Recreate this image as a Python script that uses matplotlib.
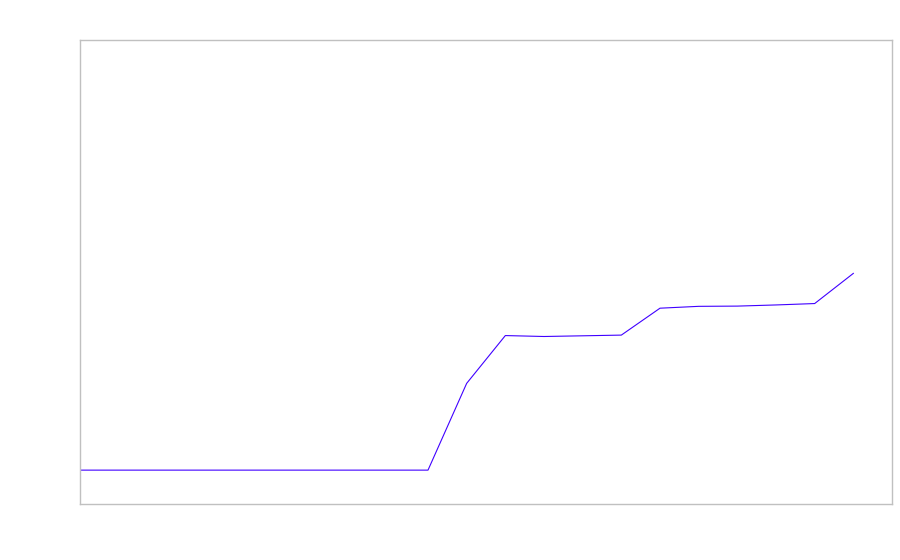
import matplotlib
matplotlib.use("Agg")
import matplotlib.pyplot as plt

# values (arbitrary 0-100 scale, no labels shown)
steps = list(range(21))
values = [7.3, 7.3, 7.3, 7.3, 7.3, 7.3, 7.3, 7.3, 7.3, 7.3,
          26.0, 36.3, 36.1, 36.25, 36.4, 42.2, 42.6, 42.65, 42.9, 43.2, 49.7]

fig = plt.figure(figsize=(9, 5.6), dpi=100)
ax = fig.add_axes([80 / 900, 56 / 560, 812 / 900, 464 / 560])

ax.plot(steps, values, color="#4000ff", linewidth=0.8)

ax.set_xlim(0, 21)
ax.set_ylim(0, 100)
ax.set_xticks([])
ax.set_yticks([])
for s in ax.spines.values():
    s.set_color("#c0c0c0")
    s.set_linewidth(1)

fig.savefig("out.png", dpi=100)
